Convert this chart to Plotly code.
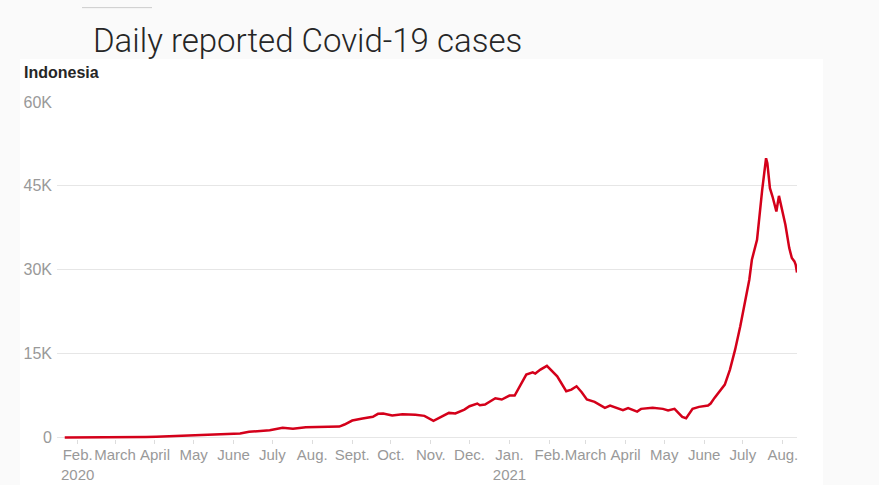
import plotly.graph_objects as go

# ---------------- data ----------------
dates = [
    "2020-01-22", "2020-02-15", "2020-03-05", "2020-03-15", "2020-03-25", "2020-04-02",
    "2020-04-15", "2020-04-30", "2020-05-12", "2020-05-24", "2020-06-06", "2020-06-13",
    "2020-06-20", "2020-06-29", "2020-07-09", "2020-07-17", "2020-07-27", "2020-08-06",
    "2020-08-14", "2020-08-22", "2020-08-26", "2020-09-01", "2020-09-09", "2020-09-17",
    "2020-09-21", "2020-09-25", "2020-10-02", "2020-10-10", "2020-10-20", "2020-10-27",
    "2020-11-03", "2020-11-08", "2020-11-15", "2020-11-20", "2020-11-27", "2020-12-01",
    "2020-12-07", "2020-12-09", "2020-12-13", "2020-12-21", "2020-12-26", "2021-01-01",
    "2021-01-05", "2021-01-14", "2021-01-19", "2021-01-21", "2021-01-25", "2021-01-30",
    "2021-02-07", "2021-02-14", "2021-02-18", "2021-02-22", "2021-02-26", "2021-03-02",
    "2021-03-08", "2021-03-16", "2021-03-20", "2021-03-30", "2021-04-03", "2021-04-10",
    "2021-04-13", "2021-04-22", "2021-04-30", "2021-05-04", "2021-05-09", "2021-05-15",
    "2021-05-18", "2021-05-23", "2021-05-28", "2021-06-04", "2021-06-06", "2021-06-09",
    "2021-06-14", "2021-06-17", "2021-06-21", "2021-06-25", "2021-06-29", "2021-07-02",
    "2021-07-06", "2021-07-08", "2021-07-12", "2021-07-16", "2021-07-19", "2021-07-20",
    "2021-07-22", "2021-07-24", "2021-07-27", "2021-07-29", "2021-07-31", "2021-08-03",
    "2021-08-06", "2021-08-08", "2021-08-10", "2021-08-11", "2021-08-12",
]
cases = [
    0, 0, 2, 60, 100, 150,
    280, 360, 450, 620, 700, 1020,
    1100, 1300, 1730, 1550, 1840, 1900,
    1930, 1960, 2320, 3030, 3390, 3700,
    4230, 4290, 3930, 4170, 4050, 3870,
    2980, 3510, 4400, 4290, 5000, 5590,
    6070, 5770, 5890, 7020, 6790, 7500,
    7500, 11250, 11660, 11430, 12140, 12800,
    10950, 8270, 8570, 9160, 8090, 6790,
    6370, 5300, 5710, 4880, 5240, 4640,
    5120, 5300, 5120, 4820, 5120, 3700,
    3450, 5120, 5480, 5710, 6070, 7080,
    8450, 9460, 12140, 15710, 19880, 23450,
    28210, 31790, 35360, 44290, 49940, 49050,
    44590, 43090, 40410, 43210, 41300, 38040,
    33870, 32090, 31490, 30890, 29520,
]

x_tick_dates = [
    "2020-02-01", "2020-03-01", "2020-04-01", "2020-05-01", "2020-06-01", "2020-07-01",
    "2020-08-01", "2020-09-01", "2020-10-01", "2020-11-01", "2020-12-01", "2021-01-01",
    "2021-02-01", "2021-03-01", "2021-04-01", "2021-05-01", "2021-06-01", "2021-07-01",
    "2021-08-01",
]
x_tick_labels = [
    "Feb.<br>2020", "March", "April", "May", "June", "July",
    "Aug.", "Sept.", "Oct.", "Nov.", "Dec.", "Jan.<br>2021",
    "Feb.", "March", "April", "May", "June", "July",
    "Aug.",
]
y_tick_values = [0, 15000, 30000, 45000, 60000]
y_tick_labels = ["0", "15K", "30K", "45K", "60K"]

title_text = "Daily reported Covid-19 cases"
subtitle_text = "Indonesia"

# ---------------- layout geometry (pixels) ----------------
W_PX, H_PX = 879, 485
L, R, T, B = 57, 797, 102, 439.5
PW, PH = R - L, B - T


def px(xp):
    return (xp - L) / PW


def py(yp):
    return (B - yp) / PH


fig = go.Figure()
fig.add_trace(go.Scatter(
    x=dates, y=cases, mode="lines",
    line=dict(color="#d4001a", width=2.5),
    hoverinfo="x+y", showlegend=False,
))

fig.update_layout(
    width=W_PX, height=H_PX,
    margin=dict(l=L, r=W_PX - R, t=T, b=H_PX - B, pad=0, autoexpand=False),
    paper_bgcolor="#fafafa",
    plot_bgcolor="rgba(0,0,0,0)",
    font=dict(family="Liberation Sans, Arial, sans-serif", color="#999999", size=15),
    xaxis=dict(
        type="date",
        range=["2020-01-16", "2021-08-12"],
        tickmode="array", tickvals=x_tick_dates, ticktext=x_tick_labels,
        tickangle=0,
        ticks="outside", ticklen=4, tickcolor="#dddddd", tickwidth=1,
        showgrid=False, zeroline=False, showline=False,
        tickfont=dict(size=15, color="#999999"),
        ticklabelstandoff=-2,
        automargin=False,
        fixedrange=True,
    ),
    yaxis=dict(
        range=[-268, 60000],
        tickmode="array", tickvals=y_tick_values, ticktext=y_tick_labels,
        showgrid=True, gridcolor="#e6e6e6", gridwidth=1,
        zeroline=False, showline=False, ticks="",
        tickfont=dict(size=16, color="#999999"),
        ticklabelstandoff=4,
        automargin=False,
        fixedrange=True,
    ),
    shapes=[
        dict(type="rect", xref="paper", yref="paper",
             x0=px(20), x1=px(823), y0=py(H_PX + 5), y1=py(59),
             fillcolor="#ffffff", line=dict(width=0), layer="below"),
        dict(type="line", xref="paper", yref="paper",
             x0=px(82), x1=px(152), y0=py(7.5), y1=py(7.5),
             line=dict(color="#cccccc", width=1)),
    ],
    annotations=[
        dict(text=title_text, xref="paper", yref="paper",
             x=px(91), y=py(40), xanchor="left", yanchor="middle",
             showarrow=False,
             font=dict(family="Roboto", weight=300, size=33, color="#262626")),
        dict(text="<b>" + subtitle_text + "</b>", xref="paper", yref="paper",
             x=px(22), y=py(72), xanchor="left", yanchor="middle",
             showarrow=False,
             font=dict(family="Liberation Sans, Arial", size=16, color="#262626")),
    ],
)

fig.write_html(
    "out.html",
    config={"displayModeBar": False},
    post_script="document.body.style.margin='0';document.body.style.overflow='hidden';",
)
